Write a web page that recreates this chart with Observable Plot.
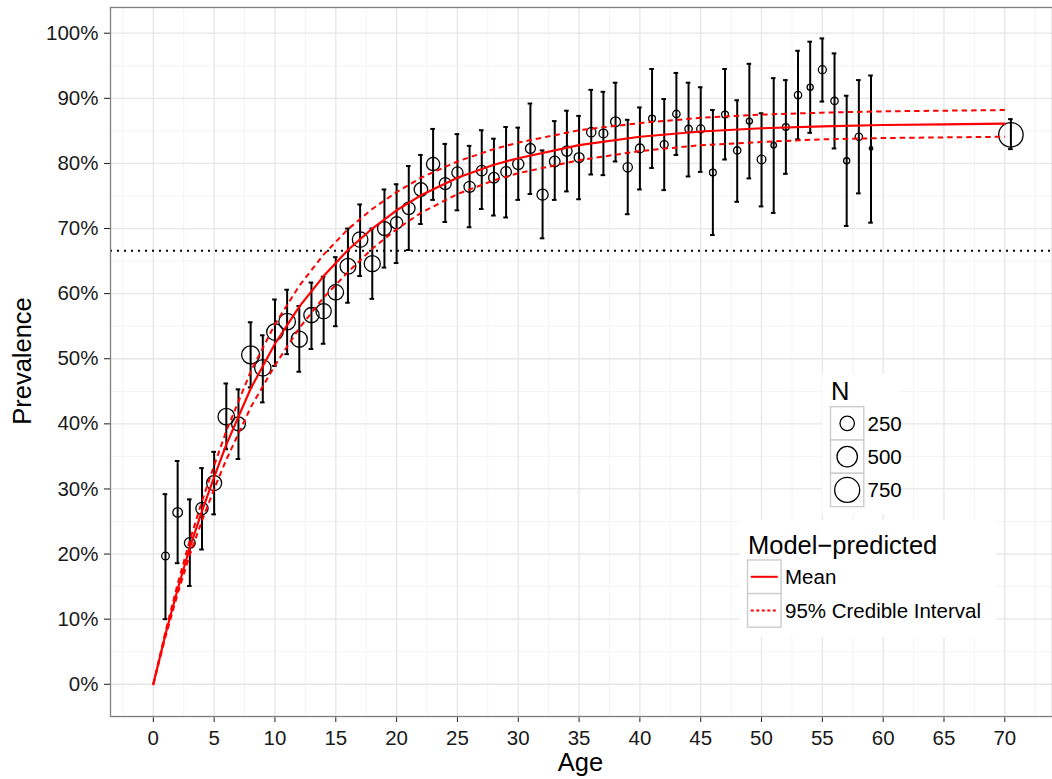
<!DOCTYPE html>
<html>
<head>
<meta charset="utf-8">
<script src="https://cdn.jsdelivr.net/npm/d3@7"></script>
<script src="https://cdn.jsdelivr.net/npm/@observablehq/plot@0.6"></script>
<style>
  html, body { margin: 0; padding: 0; background: #fff; }
  #chart { width: 1052px; height: 779px; }
</style>
</head>
<body>
<div id="chart"></div>
<script>
// ---- observed data (age group, prevalence %, 95% CI bounds %, sample size N) ----
const ages = [1,2,3,4,5,6,7,8,9,10,11,12,13,14,15,16,17,18,19,20,21,22,23,24,25,26,27,28,29,30,
  31,32,33,34,35,36,37,38,39,40,41,42,43,44,45,46,47,48,49,50,51,52,53,54,55,56,57,58,59,70.5];
const prevalence = [19.7,26.4,21.7,27.0,30.9,41.1,40.0,50.6,48.6,54.1,55.7,53.0,56.7,57.3,60.2,64.2,68.3,64.6,70.0,70.9,
  73.1,76.0,79.9,76.9,78.6,76.4,78.9,77.8,78.7,79.9,82.3,75.2,80.3,81.9,80.9,84.8,84.6,86.4,79.4,82.3,
  86.9,82.9,87.6,85.3,85.3,78.6,87.5,82.0,86.5,80.6,82.8,85.6,90.5,91.7,94.4,89.6,80.4,84.1,82.3,84.4];
const ciUpper = [29.2,34.3,28.4,33.2,35.7,46.2,45.3,55.6,53.6,59.1,60.6,58.1,61.7,62.6,65.6,70.0,73.7,70.0,76.0,76.8,
  79.6,81.3,85.3,83.0,84.5,82.7,85.1,83.8,85.6,85.5,89.2,82.0,86.5,88.1,87.3,91.3,91.0,92.4,86.7,88.6,
  94.5,89.9,93.9,92.4,91.7,88.2,94.5,89.7,95.3,87.7,93.1,92.8,97.3,98.7,99.2,96.9,90.4,92.8,93.5,86.8];
const ciLower = [10.0,18.6,15.1,20.7,26.1,36.1,34.6,45.6,43.3,48.9,50.7,48.0,51.5,52.3,55.0,58.6,62.7,59.2,64.0,64.7,
  66.7,70.7,74.4,71.0,72.8,70.2,73.0,72.0,71.7,74.4,75.3,68.5,74.4,75.7,74.5,78.3,78.2,80.3,72.2,76.0,
  79.3,75.9,81.3,78.0,78.7,69.0,80.6,74.1,77.7,73.4,72.4,78.4,83.7,84.7,89.5,82.3,70.4,75.4,70.9,82.2];
const sampleN = [70,110,140,180,270,330,230,390,320,330,330,310,280,280,290,300,290,310,230,180,
  190,220,210,170,150,150,135,135,135,150,118,150,135,130,118,104,95,118,104,95,
  55,77,65,65,77,55,55,65,45,90,36,55,65,45,77,65,45,65,15,720];

// ---- model-predicted curve ----
const curveAge   = [0,1,2,3,4,5,6,8,10,12,14,16,18,20,22,25,28,30,35,40,45,50,55,60,65,70];
const curveMean  = [0,7.7,14.6,21.0,26.6,31.8,36.8,45.4,52.3,58.0,62.7,66.7,70.0,72.8,75.1,77.8,79.8,80.8,82.8,84.1,84.9,85.4,85.7,85.9,86.0,86.1];
const curveLower = [0,7.3,13.9,19.9,25.1,30.0,34.5,42.5,49.0,54.7,59.4,63.3,66.9,69.9,72.4,75.3,77.4,78.5,80.5,81.9,82.8,83.3,83.7,83.9,84.0,84.1];
const curveUpper = [0,8.1,15.4,22.1,28.1,33.6,38.9,48.0,55.3,61.2,66.0,69.9,73.0,75.6,77.8,80.3,82.2,83.2,85.1,86.2,87.0,87.5,87.8,88.0,88.1,88.2];

const threshold = 0.666;

// ---- axis breaks ----
const xTicks = [0,5,10,15,20,25,30,35,40,45,50,55,60,65,70];
const xMinor = [-2.5,2.5,7.5,12.5,17.5,22.5,27.5,32.5,37.5,42.5,47.5,52.5,57.5,62.5,67.5,72.5];
const yTicks = [0,0.1,0.2,0.3,0.4,0.5,0.6,0.7,0.8,0.9,1.0];
const yMinor = [-0.05,0.05,0.15,0.25,0.35,0.45,0.55,0.65,0.75,0.85,0.95];

const sizeBreaks = [250, 500, 750];

// ---- build tables ----
const points = ages.map((a, i) => ({
  age: a, prev: prevalence[i] / 100, lo: ciLower[i] / 100, hi: ciUpper[i] / 100, n: sampleN[i]
}));
const curve = curveAge.map((a, i) => ({
  age: a, mean: curveMean[i] / 100, lo: curveLower[i] / 100, hi: curveUpper[i] / 100
}));

const capHalf = 0.19;
const red = "#ff0000";
const dash = "5.5,4";

const plot = Plot.plot({
  width: 1052,
  height: 779,
  marginLeft: 110,
  marginRight: 0,
  marginTop: 7,
  marginBottom: 63,
  style: {
    fontFamily: "'Liberation Sans', Arial, Helvetica, sans-serif",
    fontSize: "20.5px",
    color: "#1a1a1a",
    background: "#ffffff"
  },
  x: {
    domain: [-3.52, 73.92],
    ticks: xTicks,
    tickSize: 6,
    tickPadding: 8,
    label: null
  },
  y: {
    domain: [-0.0495, 1.0395],
    ticks: yTicks,
    tickFormat: d3.format(".0%"),
    tickSize: 6,
    tickPadding: 6,
    label: null
  },
  r: { type: "sqrt", domain: [0, 750], range: [0, 12.5] },
  marks: [
    Plot.ruleX(xMinor, { stroke: "#f3f3f3", strokeWidth: 1 }),
    Plot.ruleY(yMinor, { stroke: "#f3f3f3", strokeWidth: 1 }),
    Plot.ruleX(xTicks, { stroke: "#e6e6e6", strokeWidth: 1.3 }),
    Plot.ruleY(yTicks, { stroke: "#e6e6e6", strokeWidth: 1.3 }),
    Plot.ruleY([threshold], { stroke: "#000", strokeWidth: 2, strokeDasharray: "2,5" }),
    // error bars
    Plot.ruleX(points, { x: "age", y1: "lo", y2: "hi", stroke: "#000", strokeWidth: 2 }),
    Plot.ruleY(points, { y: "hi", x1: d => d.age - capHalf, x2: d => d.age + capHalf, stroke: "#000", strokeWidth: 2 }),
    Plot.ruleY(points, { y: "lo", x1: d => d.age - capHalf, x2: d => d.age + capHalf, stroke: "#000", strokeWidth: 2 }),
    // points sized by N
    Plot.dot(points, { x: "age", y: "prev", r: "n", stroke: "#000", strokeWidth: 1.3, fill: "none" }),
    // model curves
    Plot.line(curve, { x: "age", y: "lo", stroke: red, strokeWidth: 2, strokeDasharray: dash, strokeLinecap: "butt" }),
    Plot.line(curve, { x: "age", y: "hi", stroke: red, strokeWidth: 2, strokeDasharray: dash, strokeLinecap: "butt" }),
    Plot.line(curve, { x: "age", y: "mean", stroke: red, strokeWidth: 2.2 }),
    Plot.frame({ stroke: "#7f7f7f", strokeWidth: 1.3 })
  ]
});

document.getElementById("chart").appendChild(plot);

const svg = d3.select(plot);
const font = "'Liberation Sans', Arial, Helvetica, sans-serif";

// axis titles
svg.append("text")
  .attr("x", 580.5).attr("y", 771)
  .attr("text-anchor", "middle")
  .attr("font-family", font).attr("font-size", 25.5).attr("fill", "#000")
  .text("Age");
svg.append("text")
  .attr("transform", "translate(31,361) rotate(-90)")
  .attr("text-anchor", "middle")
  .attr("font-family", font).attr("font-size", 25.5).attr("fill", "#000")
  .text("Prevalence");

// ---- size legend "N" ----
const rScale = plot.scale("r");
const rOf = (rScale && rScale.apply) ? (v => rScale.apply(v)) : (v => 12.5 * Math.sqrt(v / 750));

const gN = svg.append("g").attr("text-anchor", "start");
gN.append("rect").attr("x", 822).attr("y", 374).attr("width", 76).attr("height", 140).attr("fill", "#fff");
gN.append("text").attr("x", 831).attr("y", 399.5).attr("text-anchor", "start")
  .attr("font-family", font).attr("font-size", 25.5).attr("fill", "#000").text("N");
sizeBreaks.forEach((v, i) => {
  const y0 = 406.7 + i * 33.3;
  gN.append("rect").attr("x", 830.5).attr("y", y0).attr("width", 33.3).attr("height", 33.3)
    .attr("fill", "#fff").attr("stroke", "#cccccc").attr("stroke-width", 1.4);
  gN.append("circle").attr("cx", 847.2).attr("cy", y0 + 16.65).attr("r", rOf(v))
    .attr("fill", "none").attr("stroke", "#000").attr("stroke-width", 1.3);
  gN.append("text").attr("x", 867.5).attr("y", y0 + 16.65 + 7.2).attr("text-anchor", "start")
    .attr("font-family", font).attr("font-size", 20.5).attr("fill", "#000").text(String(v));
});

// ---- line legend "Model-predicted" ----
const gM = svg.append("g").attr("text-anchor", "start");
gM.append("rect").attr("x", 740).attr("y", 520).attr("width", 256).attr("height", 117).attr("fill", "#fff");
gM.append("text").attr("x", 748).attr("y", 553.5).attr("text-anchor", "start")
  .attr("font-family", font).attr("font-size", 25.5).attr("fill", "#000").text("Model\u2212predicted");
[["Mean", null], ["95% Credible Interval", dash]].forEach(([lab, da], i) => {
  const y0 = 560 + i * 33.6;
  gM.append("rect").attr("x", 747.5).attr("y", y0).attr("width", 33.6).attr("height", 33.6)
    .attr("fill", "#fff").attr("stroke", "#cccccc").attr("stroke-width", 1.4);
  const ln = gM.append("line").attr("x1", 750.8).attr("x2", 777.8)
    .attr("y1", y0 + 16.8).attr("y2", y0 + 16.8)
    .attr("stroke", red).attr("stroke-width", 2);
  if (da) ln.attr("stroke-dasharray", "3,2.5");
  gM.append("text").attr("x", 785).attr("y", y0 + 16.8 + 7.2).attr("text-anchor", "start")
    .attr("font-family", font).attr("font-size", 20.5).attr("fill", "#000").text(lab);
});
</script>
</body>
</html>
